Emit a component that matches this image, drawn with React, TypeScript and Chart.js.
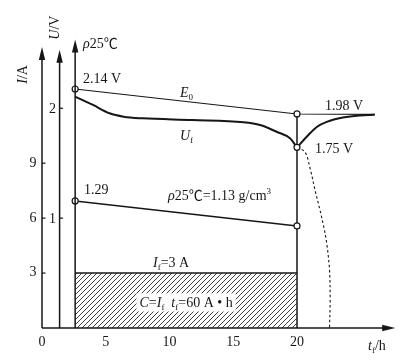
import React, { useEffect, useRef } from 'react';
import { Chart, registerables } from 'chart.js';

Chart.register(...registerables);

// ---------- data ----------
// time axis t_f / h
const X_TICKS = [0, 5, 10, 15, 20];
const I_TICKS = [3, 6, 9];
const U_TICKS = [1, 2];

// E0 (open-circuit emf) in V
const E0_T = [2.6, 20, 26.1];
const E0_U = [2.175, 1.948, 1.944];

// U_f discharge voltage in V
const UF_T = [2.6, 4.0, 5.3, 6.4, 7.9, 11.8, 15.8, 17.1, 18.4, 19.45, 20];
const UF_U = [2.105, 2.03, 1.954, 1.923, 1.908, 1.893, 1.872, 1.847, 1.786, 1.726, 1.644];

// voltage recovery after discharge stops
const REC_T = [20, 20.76, 21.55, 22.33, 23.6, 24.9, 26.1];
const REC_U = [1.644, 1.74, 1.83, 1.876, 1.916, 1.935, 1.94];

// dashed: continued discharge
const DASH_T = [20, 20.63, 21.02, 21.41, 21.8, 22.12, 22.35, 22.55, 22.6, 22.55];
const DASH_U = [1.644, 1.601, 1.456, 1.256, 1.074, 0.91, 0.755, 0.528, 0.255, 0];

// electrolyte density g/cm3
const RHO_T = [2.6, 20];
const RHO = [1.29, 1.13];

// discharge current A
const I_T = [2.6, 20];
const I_F = [3, 3];

// axis positions (in hours) of the three vertical axes
const AXIS_I_T = 0;
const AXIS_U_T = 1.38;
const AXIS_R_T = 2.6;

const FONT = '"Liberation Serif", "Times New Roman", "Noto Sans CJK SC", serif';
const INK = '#161616';

type Seg = { t: string; i?: boolean; sub?: boolean; sup?: boolean };

function drawRich(
  ctx: CanvasRenderingContext2D,
  segs: Seg[],
  x: number,
  y: number,
  align: 'left' | 'center' | 'right',
  size: number,
  bg?: string
) {
  const fontFor = (s: Seg) =>
    `${s.i ? 'italic ' : ''}${s.sub || s.sup ? Math.round(size * 0.62) : size}px ${FONT}`;
  let w = 0;
  const widths: number[] = [];
  for (const s of segs) {
    ctx.font = fontFor(s);
    const m = ctx.measureText(s.t).width;
    widths.push(m);
    w += m;
  }
  let cx = align === 'left' ? x : align === 'center' ? x - w / 2 : x - w;
  if (bg) {
    ctx.fillStyle = bg;
    ctx.fillRect(cx - 3, y - size * 0.62, w + 6, size * 1.3);
  }
  const base = y + size * 0.35;
  ctx.fillStyle = INK;
  ctx.textBaseline = 'alphabetic';
  ctx.textAlign = 'left';
  segs.forEach((s, k) => {
    ctx.font = fontFor(s);
    const dy = s.sub ? size * 0.22 : s.sup ? -size * 0.42 : 0;
    ctx.fillText(s.t, cx, base + dy);
    cx += widths[k];
  });
}

function makeHatch(): CanvasPattern | string {
  const c = document.createElement('canvas');
  const n = 5;
  c.width = n;
  c.height = n;
  const g = c.getContext('2d');
  if (!g) return '#888';
  g.strokeStyle = '#2a2a2a';
  g.lineWidth = 0.9;
  g.beginPath();
  g.moveTo(0, n);
  g.lineTo(n, 0);
  g.moveTo(-1, 1);
  g.lineTo(1, -1);
  g.moveTo(n - 1, n + 1);
  g.lineTo(n + 1, n - 1);
  g.stroke();
  const p = g.createPattern(c, 'repeat');
  return p || '#888';
}

const pts = (xs: number[], ys: number[]) => xs.map((x, i) => ({ x, y: ys[i] }));

const decorPlugin = {
  id: 'decor',
  beforeDraw(chart: any) {
    const { ctx, width, height } = chart;
    ctx.save();
    ctx.fillStyle = '#ffffff';
    ctx.fillRect(0, 0, width, height);
    ctx.restore();
  },
  afterDatasetsDraw(chart: any) {
    const ctx: CanvasRenderingContext2D = chart.ctx;
    const sx = chart.scales.x;
    const sI = chart.scales.yI;
    const sU = chart.scales.yU;
    const px = (t: number) => sx.getPixelForValue(t);
    const py = (a: number) => sI.getPixelForValue(a);
    const base = py(0);

    ctx.save();
    ctx.strokeStyle = INK;
    ctx.fillStyle = INK;
    ctx.lineWidth = 1.5;

    const arrowUp = (x: number, tip: number) => {
      ctx.beginPath();
      ctx.moveTo(x, base);
      ctx.lineTo(x, tip + 6);
      ctx.stroke();
      ctx.beginPath();
      ctx.moveTo(x, tip);
      ctx.lineTo(x - 3.2, tip + 13);
      ctx.lineTo(x + 3.2, tip + 13);
      ctx.closePath();
      ctx.fill();
    };
    // vertical axes
    arrowUp(px(AXIS_I_T), py(15.35));
    arrowUp(px(AXIS_U_T), py(15.2));
    arrowUp(px(AXIS_R_T), py(15.75));

    // horizontal axis
    const xEnd = px(27.7);
    ctx.beginPath();
    ctx.moveTo(px(AXIS_I_T), base);
    ctx.lineTo(xEnd - 6, base);
    ctx.stroke();
    ctx.beginPath();
    ctx.moveTo(xEnd, base);
    ctx.lineTo(xEnd - 13, base - 3.2);
    ctx.lineTo(xEnd - 13, base + 3.2);
    ctx.closePath();
    ctx.fill();

    // tick marks
    ctx.lineWidth = 1.2;
    for (const v of I_TICKS) {
      const y = py(v);
      ctx.beginPath();
      ctx.moveTo(px(AXIS_I_T), y);
      ctx.lineTo(px(AXIS_I_T) + 3.5, y);
      ctx.stroke();
    }
    for (const v of U_TICKS) {
      const y = sU.getPixelForValue(v);
      ctx.beginPath();
      ctx.moveTo(px(AXIS_U_T), y);
      ctx.lineTo(px(AXIS_U_T) + 3.5, y);
      ctx.stroke();
    }

    const S = 14;
    // tick labels
    for (const v of X_TICKS) {
      drawRich(ctx, [{ t: String(v) }], px(v), base + 13, 'center', S);
    }
    for (const v of I_TICKS) {
      drawRich(ctx, [{ t: String(v) }], px(AXIS_I_T) - 5.5, py(v) - 1.5, 'right', S);
    }
    for (const v of U_TICKS) {
      drawRich(ctx, [{ t: String(v) }], px(AXIS_U_T) - 3.5, sU.getPixelForValue(v), 'right', S);
    }

    // axis titles (rotated)
    const rot = (segs: Seg[], x: number, y: number) => {
      ctx.save();
      ctx.translate(x, y);
      ctx.rotate(-Math.PI / 2);
      drawRich(ctx, segs, 0, 0, 'center', S);
      ctx.restore();
    };
    rot([{ t: 'I', i: true }, { t: '/A' }], px(AXIS_I_T) - 20, py(13.85));
    rot([{ t: 'U', i: true }, { t: '/V' }], px(AXIS_U_T) - 5, py(16.4));
    drawRich(ctx, [{ t: 'ρ', i: true }, { t: '25℃' }], px(3.22), py(15.57), 'left', S);
    drawRich(ctx, [{ t: 't', i: true }, { t: 'f', sub: true }, { t: '/h' }], px(25.57), base + 17, 'left', S);

    // annotations
    drawRich(ctx, [{ t: '2.14 V' }], px(3.22), py(13.62), 'left', S);
    drawRich(ctx, [{ t: 'E', i: true }, { t: '0', sub: true }], px(10.82), py(12.9), 'left', S);
    drawRich(ctx, [{ t: 'U', i: true }, { t: 'f', sub: true }], px(10.82), py(10.54), 'left', S);
    drawRich(ctx, [{ t: '1.98 V' }], px(22.2), py(12.18), 'left', S);
    drawRich(ctx, [{ t: '1.75 V' }], px(21.41), py(9.83), 'left', S);
    drawRich(ctx, [{ t: '1.29' }], px(3.3), py(7.58), 'left', S);
    drawRich(
      ctx,
      [{ t: 'ρ', i: true }, { t: '25℃=1.13 g/cm' }, { t: '3', sup: true }],
      px(9.88),
      py(7.26),
      'left',
      S
    );
    drawRich(ctx, [{ t: 'I', i: true }, { t: 'f', sub: true }, { t: '=3 A' }], px(8.71), py(3.6), 'left', S);
    drawRich(
      ctx,
      [
        { t: 'C', i: true },
        { t: '=' },
        { t: 'I', i: true },
        { t: 'f', sub: true },
        { t: '  ' },
        { t: 't', i: true },
        { t: 'f', sub: true },
        { t: '=60 A • h' },
      ],
      px(11.3),
      py(1.42),
      'center',
      S,
      '#ffffff'
    );
    ctx.restore();
  },
};

export default function App() {
  const ref = useRef<HTMLCanvasElement | null>(null);

  useEffect(() => {
    const canvas = ref.current;
    if (!canvas) return;
    const hatch = makeHatch();
    const marker = {
      pointBackgroundColor: '#ffffff',
      pointBorderColor: INK,
      pointBorderWidth: 1.2,
    };
    const chart = new Chart(canvas, {
      type: 'line',
      data: {
        datasets: [
          {
            label: 'E0',
            data: pts(E0_T, E0_U),
            yAxisID: 'yU',
            borderColor: INK,
            borderWidth: 1.1,
            tension: 0,
            pointRadius: [3, 3, 0],
            ...marker,
          },
          {
            label: 'Uf',
            data: pts(UF_T, UF_U),
            yAxisID: 'yU',
            borderColor: INK,
            borderWidth: 2,
            cubicInterpolationMode: 'monotone',
            pointRadius: UF_T.map((_, i) => (i === UF_T.length - 1 ? 3 : 0)),
            ...marker,
          },
          {
            label: 'rho',
            data: pts(RHO_T, RHO),
            yAxisID: 'yR',
            borderColor: INK,
            borderWidth: 1.6,
            tension: 0,
            pointRadius: 3,
            ...marker,
          },
          {
            label: 'recovery',
            data: pts(REC_T, REC_U),
            yAxisID: 'yU',
            borderColor: INK,
            borderWidth: 2,
            cubicInterpolationMode: 'monotone',
            pointRadius: 0,
          },
          {
            label: 'deep',
            data: pts(DASH_T, DASH_U),
            yAxisID: 'yU',
            borderColor: INK,
            borderWidth: 1.1,
            borderDash: [2.5, 2.5],
            tension: 0.35,
            pointRadius: 0,
          },
          {
            label: 'If',
            data: pts(I_T, I_F),
            yAxisID: 'yI',
            borderColor: INK,
            borderWidth: 1.5,
            backgroundColor: hatch as any,
            fill: 'origin',
            tension: 0,
            pointRadius: 0,
          },
          {
            label: 'end',
            data: pts([20, 20], [0, E0_U[1]]),
            yAxisID: 'yU',
            borderColor: INK,
            borderWidth: 1.5,
            tension: 0,
            pointRadius: 0,
          },
        ],
      },
      options: {
        animation: false,
        responsive: false,
        devicePixelRatio: 1,
        events: [],
        layout: { padding: { left: 42, right: 18, top: 35, bottom: 33 } },
        plugins: { legend: { display: false }, tooltip: { enabled: false } },
        scales: {
          x: { type: 'linear', min: 0, max: 28, display: false },
          yI: { type: 'linear', position: 'left', min: 0, max: 16, display: false },
          yU: { type: 'linear', position: 'left', min: 0, max: 16 / 6, display: false },
          yR: { type: 'linear', position: 'left', min: 0.477, max: 2.352, display: false },
        },
      },
      plugins: [decorPlugin],
    });
    return () => chart.destroy();
  }, []);

  return (
    <div style={{ position: 'fixed', left: 0, top: 0, width: 417, height: 361, background: '#fff' }}>
      <canvas ref={ref} width={417} height={361} style={{ display: 'block', width: 417, height: 361 }} />
    </div>
  );
}
